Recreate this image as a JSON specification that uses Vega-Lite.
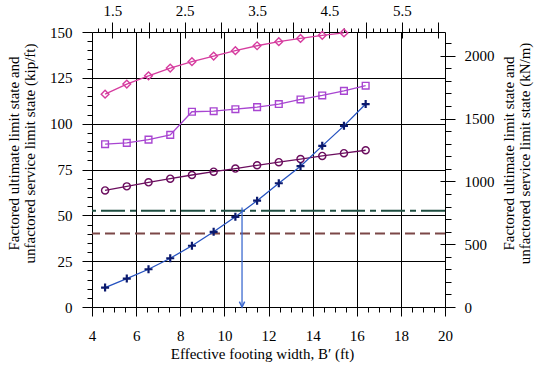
{
  "$schema": "https://vega.github.io/schema/vega-lite/v6.json",
  "width": 353,
  "height": 275,
  "autosize": {"type": "none"},
  "padding": {"left": 92, "top": 32, "right": 95, "bottom": 61},
  "background": "white",
  "config": {
    "view": {"stroke": null},
    "font": "Liberation Serif",
    "axis": {
      "labelFont": "Liberation Serif",
      "titleFont": "Liberation Serif",
      "labelFontSize": 15,
      "titleFontSize": 15,
      "titleFontWeight": "normal",
      "labelColor": "#000",
      "titleColor": "#000",
      "domainColor": "#000",
      "tickColor": "#000",
      "gridColor": "#000",
      "gridWidth": 1,
      "labelOverlap": false,
      "labelFlush": false,
      "labelBound": false,
      "titleLineHeight": 16
    }
  },
  "datasets": {
    "series": [
      {"s": "diamond", "x": 4.593, "y": 116.1}, {"s": "diamond", "x": 5.577, "y": 121.6}, {"s": "diamond", "x": 6.562, "y": 126.1}, {"s": "diamond", "x": 7.546, "y": 130.3}, {"s": "diamond", "x": 8.530, "y": 133.8}, {"s": "diamond", "x": 9.514, "y": 136.9}, {"s": "diamond", "x": 10.499, "y": 139.8}, {"s": "diamond", "x": 11.483, "y": 142.5}, {"s": "diamond", "x": 12.467, "y": 144.7}, {"s": "diamond", "x": 13.451, "y": 146.5}, {"s": "diamond", "x": 14.436, "y": 148.2}, {"s": "diamond", "x": 15.420, "y": 149.5},
      {"s": "square", "x": 4.593, "y": 88.8}, {"s": "square", "x": 5.577, "y": 89.5}, {"s": "square", "x": 6.562, "y": 91.3}, {"s": "square", "x": 7.546, "y": 93.9}, {"s": "square", "x": 8.530, "y": 106.5}, {"s": "square", "x": 9.514, "y": 106.8}, {"s": "square", "x": 10.499, "y": 107.9}, {"s": "square", "x": 11.483, "y": 109.0}, {"s": "square", "x": 12.467, "y": 110.7}, {"s": "square", "x": 13.451, "y": 113.2}, {"s": "square", "x": 14.436, "y": 115.4}, {"s": "square", "x": 15.420, "y": 117.9}, {"s": "square", "x": 16.404, "y": 120.7},
      {"s": "circle", "x": 4.593, "y": 63.6}, {"s": "circle", "x": 5.577, "y": 65.8}, {"s": "circle", "x": 6.562, "y": 68.0}, {"s": "circle", "x": 7.546, "y": 70.0}, {"s": "circle", "x": 8.530, "y": 72.0}, {"s": "circle", "x": 9.514, "y": 73.8}, {"s": "circle", "x": 10.499, "y": 75.5}, {"s": "circle", "x": 11.483, "y": 77.3}, {"s": "circle", "x": 12.467, "y": 79.0}, {"s": "circle", "x": 13.451, "y": 80.7}, {"s": "circle", "x": 14.436, "y": 82.4}, {"s": "circle", "x": 15.420, "y": 83.9}, {"s": "circle", "x": 16.404, "y": 85.5},
      {"s": "plus", "x": 4.593, "y": 10.6}, {"s": "plus", "x": 5.577, "y": 15.5}, {"s": "plus", "x": 6.562, "y": 20.6}, {"s": "plus", "x": 7.546, "y": 26.6}, {"s": "plus", "x": 8.530, "y": 33.4}, {"s": "plus", "x": 9.514, "y": 41.0}, {"s": "plus", "x": 10.499, "y": 49.2}, {"s": "plus", "x": 11.483, "y": 58.0}, {"s": "plus", "x": 12.467, "y": 67.5}, {"s": "plus", "x": 13.451, "y": 76.8}, {"s": "plus", "x": 14.436, "y": 87.9}, {"s": "plus", "x": 15.420, "y": 98.8}, {"s": "plus", "x": 16.404, "y": 110.7}
    ],
    "refs": [
      {"line": "dashdot", "y": 52.5},
      {"line": "dashed", "y": 40.1}
    ],
    "arrow": [
      {"x": 10.8, "y": 54.3, "y0": 0}
    ],
    "prim": [
      {"ft": 4, "kip": 0},
      {"ft": 20, "kip": 150}
    ],
    "sec": [
      {"m": 1.2192, "kn": 0},
      {"m": 6.096, "kn": 2189.1}
    ]
  },
  "layer": [
    {
      "data": {"name": "prim"},
      "mark": {"type": "point", "opacity": 0},
      "encoding": {
        "x": {
          "field": "ft", "type": "quantitative",
          "scale": {"domain": [4, 20], "nice": false, "zero": false},
          "axis": {
            "orient": "bottom",
            "values": [4, 4.5, 5, 5.5, 6, 6.5, 7, 7.5, 8, 8.5, 9, 9.5, 10, 10.5, 11, 11.5, 12, 12.5, 13, 13.5, 14, 14.5, 15, 15.5, 16, 16.5, 17, 17.5, 18, 18.5, 19, 19.5, 20],
            "title": "Effective footing width, B′ (ft)",
            "labelFont": "Liberation Serif",
            "titleFont": "Liberation Serif",
            "labelExpr": "datum.value % 2 == 0 ? format(datum.value, 'd') : ''",
            "tickSize": {"condition": {"test": "datum.value % 2 == 0", "value": 9}, "value": 5},
            "grid": true,
            "gridOpacity": {"condition": {"test": "datum.value % 2 == 0 && datum.value > 4 && datum.value < 20", "value": 1}, "value": 0},
            "labelPadding": 12,
            "titleBaseline": "middle",
            "titleX": 170,
            "titleY": 46
          }
        },
        "y": {
          "field": "kip", "type": "quantitative",
          "scale": {"domain": [0, 150], "nice": false},
          "axis": {
            "orient": "left",
            "values": [0, 5, 10, 15, 20, 25, 30, 35, 40, 45, 50, 55, 60, 65, 70, 75, 80, 85, 90, 95, 100, 105, 110, 115, 120, 125, 130, 135, 140, 145, 150],
            "labelFont": "Liberation Serif",
            "titleFont": "Liberation Serif",
            "labelExpr": "datum.value % 25 == 0 ? format(datum.value, 'd') : ''",
            "tickSize": {"condition": {"test": "datum.value % 25 == 0", "value": 10}, "value": 5},
            "grid": true,
            "gridOpacity": {"condition": {"test": "datum.value % 25 == 0 && datum.value > 0 && datum.value < 150", "value": 1}, "value": 0},
            "labelPadding": 10,
            "title": ["Factored ultimate limit state and", "unfactored service limit state (kip/ft)"],
            "titleAngle": 270,
            "titleBaseline": "middle",
            "titleAlign": "center",
            "titleX": -79,
            "titleY": 121
          }
        }
      }
    },
    {
      "layer": [
        {
          "data": {"name": "refs"},
          "transform": [{"filter": "datum.line == 'dashdot'"}],
          "mark": {"type": "rule", "color": "#1e4d40", "strokeWidth": 2, "strokeDash": [24, 5, 6, 5]},
          "encoding": {"y": {"field": "y", "type": "quantitative", "scale": {"domain": [0, 150], "nice": false}, "axis": null}}
        },
        {
          "data": {"name": "refs"},
          "transform": [{"filter": "datum.line == 'dashed'"}],
          "mark": {"type": "rule", "color": "#7b4747", "strokeWidth": 2, "strokeDash": [10, 5]},
          "encoding": {"y": {"field": "y", "type": "quantitative", "scale": {"domain": [0, 150], "nice": false}, "axis": null}}
        },
        {
          "data": {"name": "series"},
          "mark": {"type": "line", "strokeWidth": 1.3},
          "encoding": {
            "x": {"field": "x", "type": "quantitative", "scale": {"domain": [4, 20], "nice": false, "zero": false}, "axis": null},
            "y": {"field": "y", "type": "quantitative", "scale": {"domain": [0, 150], "nice": false}, "axis": null},
            "color": {
              "field": "s", "type": "nominal",
              "scale": {"domain": ["diamond", "square", "circle", "plus"], "range": ["#d63c9f", "#a845d1", "#6b0d5e", "#2552c0"]},
              "legend": null
            }
          }
        },
        {
          "data": {"name": "series"},
          "transform": [{"filter": "datum.s == 'diamond'"}],
          "mark": {"type": "point", "shape": "diamond", "filled": false, "size": 60, "strokeWidth": 1.4, "color": "#d63c9f", "opacity": 1},
          "encoding": {"x": {"field": "x", "type": "quantitative", "axis": null}, "y": {"field": "y", "type": "quantitative", "axis": null}}
        },
        {
          "data": {"name": "series"},
          "transform": [{"filter": "datum.s == 'square'"}],
          "mark": {"type": "point", "shape": "square", "filled": false, "size": 45, "strokeWidth": 1.4, "color": "#a845d1", "opacity": 1},
          "encoding": {"x": {"field": "x", "type": "quantitative", "axis": null}, "y": {"field": "y", "type": "quantitative", "axis": null}}
        },
        {
          "data": {"name": "series"},
          "transform": [{"filter": "datum.s == 'circle'"}],
          "mark": {"type": "point", "shape": "circle", "filled": false, "size": 50, "strokeWidth": 1.4, "color": "#6b0d5e", "opacity": 1},
          "encoding": {"x": {"field": "x", "type": "quantitative", "axis": null}, "y": {"field": "y", "type": "quantitative", "axis": null}}
        },
        {
          "data": {"name": "series"},
          "transform": [{"filter": "datum.s == 'plus'"}],
          "mark": {"type": "point", "shape": "M-1,0L1,0M0,-1L0,1", "filled": false, "size": 64, "strokeWidth": 2.2, "color": "#0b1a6e", "opacity": 1},
          "encoding": {"x": {"field": "x", "type": "quantitative", "axis": null}, "y": {"field": "y", "type": "quantitative", "axis": null}}
        },
        {
          "data": {"name": "arrow"},
          "mark": {"type": "rule", "color": "#3d6ad0", "strokeWidth": 1.3},
          "encoding": {"x": {"field": "x", "type": "quantitative", "axis": null}, "y": {"field": "y", "type": "quantitative", "axis": null}, "y2": {"field": "y0"}}
        },
        {
          "data": {"name": "arrow"},
          "mark": {"type": "point", "shape": "M-0.5,-1L0,0L0.5,-1", "filled": false, "size": 112, "strokeWidth": 1.5, "color": "#3d6ad0", "opacity": 1},
          "encoding": {"x": {"field": "x", "type": "quantitative", "axis": null}, "y": {"field": "y0", "type": "quantitative", "axis": null}}
        }
      ]
    },
    {
      "data": {"name": "sec"},
      "mark": {"type": "point", "opacity": 0},
      "encoding": {
        "x": {
          "field": "m", "type": "quantitative",
          "scale": {"domain": [1.2192, 6.096], "nice": false, "zero": false},
          "axis": {
            "orient": "top",
            "values": [1.3, 1.4, 1.5, 1.6, 1.7, 1.8, 1.9, 2.0, 2.1, 2.2, 2.3, 2.4, 2.5, 2.6, 2.7, 2.8, 2.9, 3.0, 3.1, 3.2, 3.3, 3.4, 3.5, 3.6, 3.7, 3.8, 3.9, 4.0, 4.1, 4.2, 4.3, 4.4, 4.5, 4.6, 4.7, 4.8, 4.9, 5.0, 5.1, 5.2, 5.3, 5.4, 5.5, 5.6, 5.7, 5.8, 5.9, 6.0],
            "labelFont": "Liberation Serif",
            "labelExpr": "abs(datum.value - floor(datum.value) - 0.5) < 0.001 ? format(datum.value, '.1f') : ''",
            "tickSize": {"condition": {"test": "abs(datum.value * 2 - round(datum.value * 2)) < 0.001", "value": 10}, "value": 4},
            "labelPadding": 4,
            "grid": false,
            "title": null
          }
        },
        "y": {
          "field": "kn", "type": "quantitative",
          "scale": {"domain": [0, 2189.1], "nice": false},
          "axis": {
            "orient": "right",
            "values": [0, 100, 200, 300, 400, 500, 600, 700, 800, 900, 1000, 1100, 1200, 1300, 1400, 1500, 1600, 1700, 1800, 1900, 2000, 2100],
            "labelFont": "Liberation Serif",
            "titleFont": "Liberation Serif",
            "labelExpr": "datum.value % 500 == 0 ? format(datum.value, 'd') : ''",
            "tickSize": {"condition": {"test": "datum.value % 500 == 0", "value": 10}, "value": 6},
            "labelPadding": 9,
            "grid": false,
            "title": ["Factored ultimate limit state and", "unfactored service limit state (kN/m)"],
            "titleAngle": 270,
            "titleBaseline": "middle",
            "titleAlign": "center",
            "titleX": 63,
            "titleY": 121
          }
        }
      }
    },
    {
      "data": {"name": "sec"},
      "mark": {"type": "point", "opacity": 0},
      "encoding": {
        "x": {
          "field": "m", "type": "quantitative",
          "scale": {"domain": [1.2192, 6.096], "nice": false, "zero": false},
          "axis": {
            "orient": "top",
            "values": [1.5, 2.0, 2.5, 3.0, 3.5, 4.0, 4.5, 5.0, 5.5, 6.0],
            "labels": false,
            "domain": false,
            "grid": false,
            "tickSize": -6,
            "title": null
          }
        },
        "y": {
          "field": "kn", "type": "quantitative",
          "scale": {"domain": [0, 2189.1], "nice": false},
          "axis": {
            "orient": "right",
            "values": [500, 1000, 1500, 2000],
            "labels": false,
            "domain": false,
            "grid": false,
            "tickSize": -5,
            "title": null
          }
        }
      }
    }
  ],
  "resolve": {"scale": {"x": "independent", "y": "independent"}}
}
